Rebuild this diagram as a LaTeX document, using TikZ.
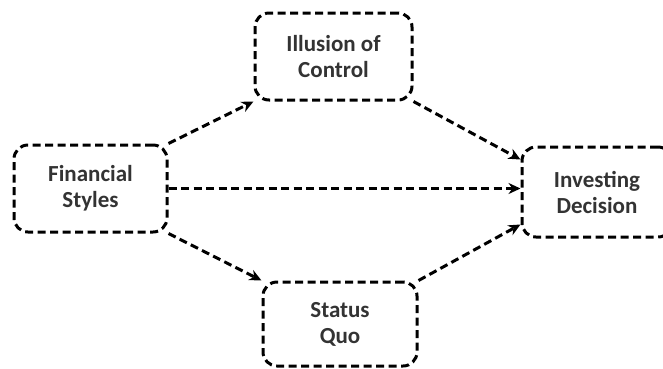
\documentclass[tikz,border=0pt]{standalone}
\usepackage{fontspec}
\setmainfont{Carlito}
\usetikzlibrary{arrows.meta,positioning,calc}

\tikzset{
  stylebox/.style={draw, line width=3pt, dash pattern=on 8pt off 4.5pt,
    rounded corners=14pt, align=center, text=black!80,
    font=\fontsize{23}{26}\selectfont\bfseries},
  link/.style={line width=3pt, dash pattern=on 8pt off 4.5pt,
    -{Stealth[length=12pt,width=11pt]}}
}

\begin{document}
\begin{tikzpicture}[x=1pt, y=-1pt]
\useasboundingbox (0,0) rectangle (663,368);
\node (fin) [stylebox, minimum width=153pt, minimum height=87pt] at (90.5,188.5) {Financial\\Styles};
\node (ill) [stylebox, minimum width=157pt, minimum height=87pt] at (333.5,56.5) {Illusion of\\Control};
\node (ind) [stylebox, minimum width=150pt, minimum height=90pt] at (597,192) {Investing\\Decision};
\node (sq) [stylebox, minimum width=154pt, minimum height=84pt] at (340,324) {Status\\Quo};
\draw[link] (fin.north east) -- (ill.south west);
\draw[link] (ill.south east) -- (ind.157);
\draw[link] (fin.east) -- (fin.east -| ind.west);
\draw[link] (fin.south east) -- (sq.north west);
\draw[link] (sq.north east) -- (ind.203);
\end{tikzpicture}
\end{document}
